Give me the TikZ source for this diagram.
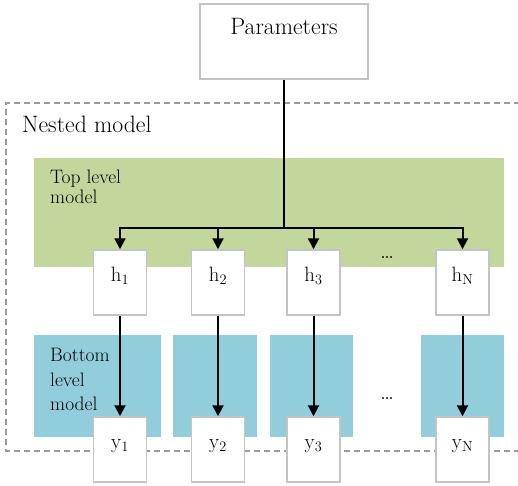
\documentclass[tikz,border=0pt]{standalone}
\usepackage{tikz}
\usetikzlibrary{arrows.meta}
\definecolor{toplevel}{HTML}{C3D69B}
\definecolor{bottomlevel}{HTML}{92CDDC}
\definecolor{boxline}{HTML}{C4C4C4}
\definecolor{nestline}{HTML}{9A9A9A}

\begin{document}
\begin{tikzpicture}[x=1pt, y=-1pt,
  unit/.style={draw=boxline, line width=1.5pt, fill=white, inner sep=0pt,
    minimum width=53pt, text height=31pt, text depth=34pt,
    font=\fontsize{22.5}{26}\selectfont},
  levellabel/.style={inner sep=0pt, anchor=north west, align=left},
  dotlabel/.style={inner sep=0pt, anchor=base, font=\fontsize{24}{26}\selectfont},
  link/.style={line width=2pt, -{Triangle[length=11pt,width=11pt]}}
]
\useasboundingbox (0,0) rectangle (518,485);

% nested model frame (open on the right)
\draw[nestline, line width=1.2pt, dash pattern=on 6pt off 4pt]
  (520,103) -- (6,103) -- (6,451) -- (520,451);
\node[anchor=base west, inner sep=0pt, font=\fontsize{23.7}{26}\selectfont]
  (nested) at (22,132) {Nested model};

% levels
\fill[toplevel] (34,158) rectangle (504,267);
\fill[bottomlevel] (34,335) rectangle (161,437);
\fill[bottomlevel] (173,335) rectangle (257,437);
\fill[bottomlevel] (270,335) rectangle (353,437);
\fill[bottomlevel] (421,335) rectangle (504,437);
\node[levellabel, font=\fontsize{19.5}{20}\selectfont] (toplabel) at (50,170)
  {Top level\\model};
\node[levellabel, font=\fontsize{19.5}{24.5}\selectfont] (bottomlabel) at (50,348)
  {Bottom\\level\\model};

% units
\node[unit, minimum width=168pt, text height=30pt, text depth=45pt,
  font=\fontsize{23.7}{26}\selectfont] (params) at (284,41.5) {Parameters};
\node[unit] (h1) at (120,282.5) {$\mathrm{h}_1$};
\node[unit] (h2) at (218,282.5) {$\mathrm{h}_2$};
\node[unit] (h3) at (313.5,282.5) {$\mathrm{h}_3$};
\node[unit] (hN) at (462.5,282.5) {$\mathrm{h}_{\mathrm{N}}$};
\node[unit] (y1) at (120,449.5) {$\mathrm{y}_1$};
\node[unit] (y2) at (218,449.5) {$\mathrm{y}_2$};
\node[unit] (y3) at (313.5,449.5) {$\mathrm{y}_3$};
\node[unit] (yN) at (462.5,449.5) {$\mathrm{y}_{\mathrm{N}}$};
\node[dotlabel] (hdots) at (387,258) {\dots};
\node[dotlabel] (ydots) at (387,399) {\dots};

% connectors
\coordinate (split) at (params.south |- 0,228);
\draw[line width=2pt] (params) -- (split);
\draw[link] (split) -| (h1);
\draw[link] (split) -| (hN);
\draw[link] (split -| h2) -- (h2);
\draw[link] (split -| h3) -- (h3);
\draw[link] (h1) -- (y1);
\draw[link] (h2) -- (y2);
\draw[link] (h3) -- (y3);
\draw[link] (hN) -- (yN);
\end{tikzpicture}
\end{document}
